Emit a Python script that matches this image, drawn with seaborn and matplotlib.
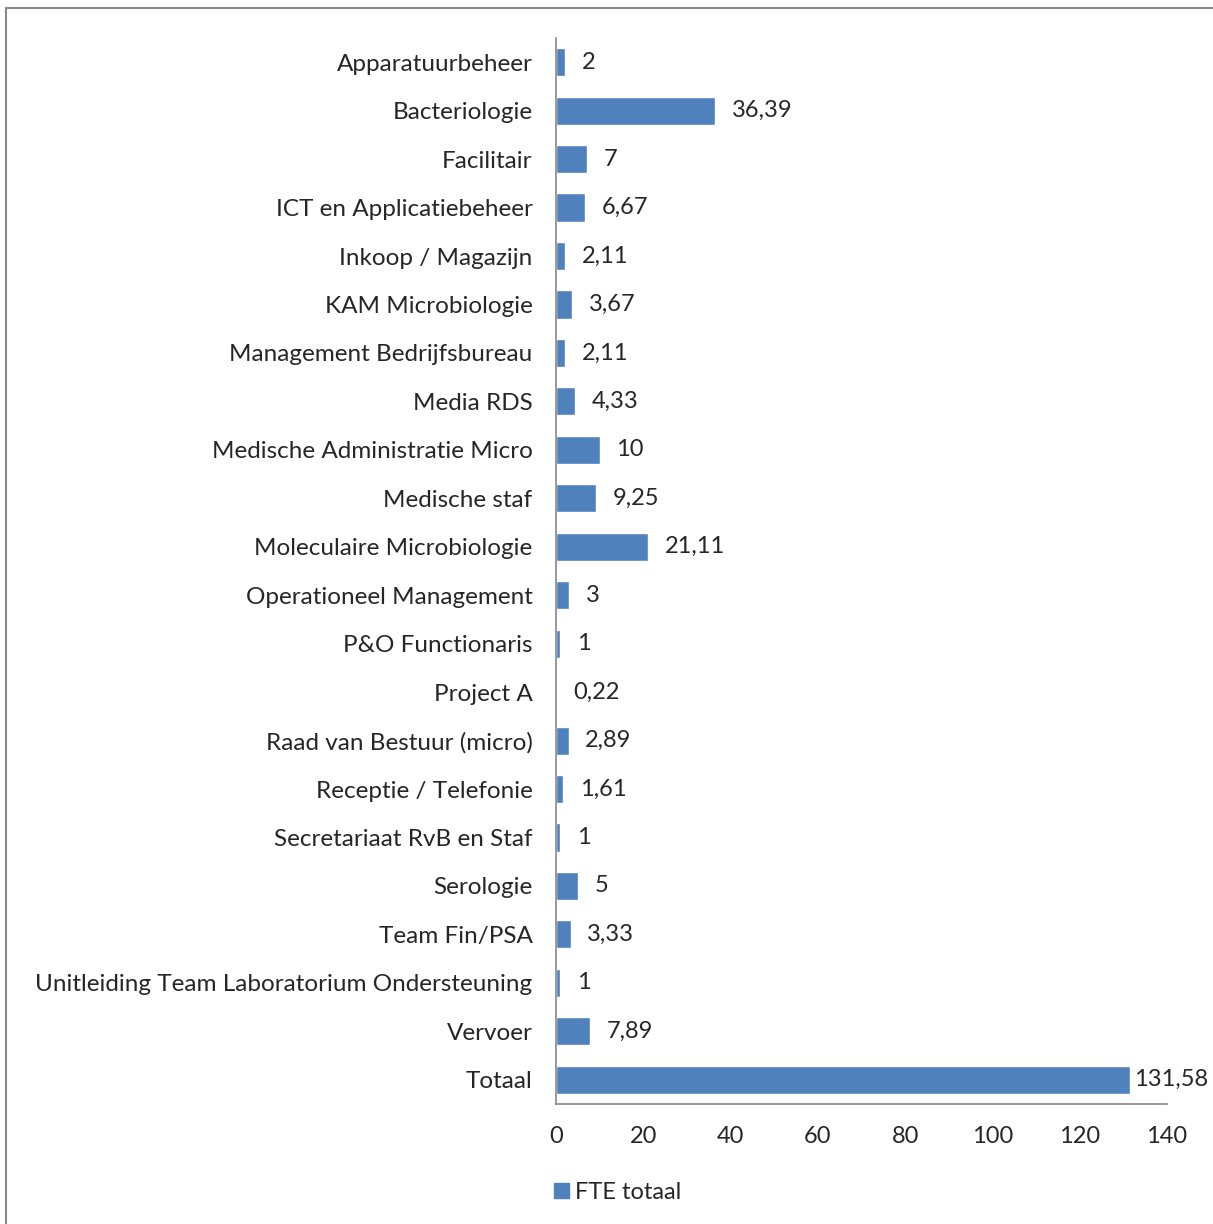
import matplotlib
matplotlib.use("Agg")
import matplotlib.pyplot as plt
import matplotlib.patches as mpatches
import seaborn as sns
import pandas as pd

categories = [
    "Apparatuurbeheer", "Bacteriologie", "Facilitair", "ICT en Applicatiebeheer",
    "Inkoop / Magazijn", "KAM Microbiologie", "Management Bedrijfsbureau", "Media RDS",
    "Medische Administratie Micro", "Medische staf", "Moleculaire Microbiologie",
    "Operationeel Management", "P&O Functionaris", "Project A", "Raad van Bestuur (micro)",
    "Receptie / Telefonie", "Secretariaat RvB en Staf", "Serologie", "Team Fin/PSA",
    "Unitleiding Team Laboratorium Ondersteuning", "Vervoer", "Totaal",
]
fte = [2, 36.39, 7, 6.67, 2.11, 3.67, 2.11, 4.33, 10, 9.25, 21.11, 3, 1, 0.22,
       2.89, 1.61, 1, 5, 3.33, 1, 7.89, 131.58]
x_ticks = [0, 20, 40, 60, 80, 100, 120, 140]

df = pd.DataFrame({"afdeling": categories, "fte": fte})

sns.set_style("white")
plt.rcParams["font.family"] = ["Lato", "DejaVu Sans"]

fig = plt.figure(figsize=(12.13, 12.24), dpi=100)
ax = fig.add_axes([0.4584, 0.098, 0.5037, 0.871])

blue = "#4F81BD"
sns.barplot(data=df, x="fte", y="afdeling", color=blue, width=0.58,
            saturation=1, ax=ax, orient="h")

labels = [f"{v:g}".replace(".", ",") for v in fte]
# the total bar gets its label close to the bar end so it stays inside the figure
main_labels = labels[:-1] + [""]
total_label = [""] * (len(labels) - 1) + [labels[-1]]
ax.bar_label(ax.containers[0], labels=main_labels, padding=12, fontsize=17)
ax.bar_label(ax.containers[0], labels=total_label, padding=3, fontsize=17)

ax.set_xlim(0, 140)
ax.set_xticks(x_ticks)
ax.tick_params(axis="x", length=0, labelsize=17, pad=16)
ax.tick_params(axis="y", length=0, labelsize=17.5, pad=17)
ax.set_xlabel("")
ax.set_ylabel("")
for s in ["top", "right"]:
    ax.spines[s].set_visible(False)
for s in ["left", "bottom"]:
    ax.spines[s].set_color("#888888")
    ax.spines[s].set_linewidth(1.2)

handle = mpatches.Patch(color=blue, label="FTE totaal")
fig.legend(handles=[handle], loc="center", bbox_to_anchor=(0.509, 0.026),
           frameon=False, fontsize=17, handlelength=0.65, handleheight=0.65,
           handletextpad=0.25)

# outer chart frame (right/bottom edges fall outside the image)
frame = mpatches.Rectangle((6 / 1213, -0.01), 1.02, 1 - 8 / 1224 + 0.01,
                           transform=fig.transFigure, fill=False,
                           edgecolor="#888888", linewidth=1.5)
fig.patches.append(frame)

fig.savefig("out.png", dpi=100)
